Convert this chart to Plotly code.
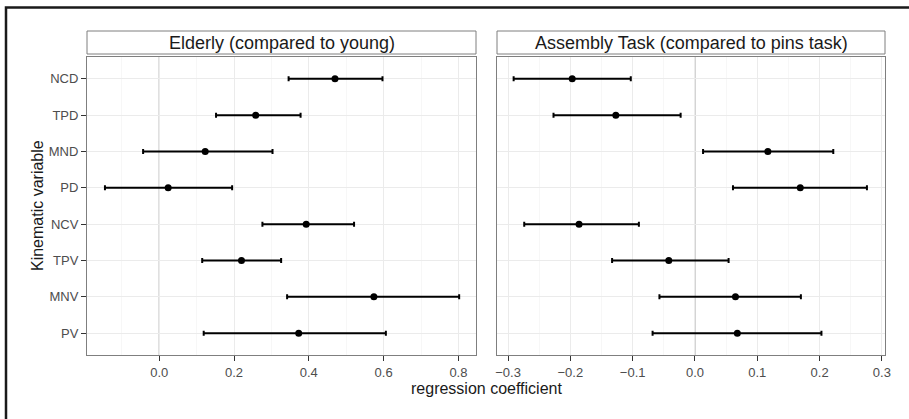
import plotly.graph_objects as go
from plotly.subplots import make_subplots

# ---- data ----
variables = ["PV", "MNV", "TPV", "NCV", "PD", "MND", "TPD", "NCD"]

elderly_est = [0.373, 0.574, 0.220, 0.393, 0.024, 0.123, 0.258, 0.470]
elderly_low = [0.119, 0.342, 0.115, 0.276, -0.145, -0.043, 0.152, 0.346]
elderly_high = [0.606, 0.802, 0.326, 0.521, 0.195, 0.303, 0.378, 0.597]

assembly_est = [0.068, 0.065, -0.042, -0.186, 0.169, 0.117, -0.127, -0.197]
assembly_low = [-0.068, -0.057, -0.133, -0.274, 0.061, 0.013, -0.227, -0.291]
assembly_high = [0.203, 0.170, 0.054, -0.090, 0.276, 0.222, -0.023, -0.103]

left_ticks = [0.0, 0.2, 0.4, 0.6, 0.8]
right_ticks = [-0.3, -0.2, -0.1, 0.0, 0.1, 0.2, 0.3]

panel_titles = ["Elderly (compared to young)", "Assembly Task (compared to pins task)"]
x_title = "regression coefficient"
y_title = "Kinematic variable"

FONT = "Liberation Sans, Arial, Helvetica, sans-serif"
W, H = 909, 419
L, R, T, B = 87, 885, 31, 355  # plot region in px


def px_x(px):
    return (px - L) / (R - L)


def px_y(py):
    return (B - py) / (B - T)


def fmt(v):
    s = f"{abs(v):.1f}"
    return ("\u2212" + s) if v < 0 else s


fig = make_subplots(rows=1, cols=2)

panels = [
    (elderly_est, elderly_low, elderly_high),
    (assembly_est, assembly_low, assembly_high),
]
for i, (est, low, high) in enumerate(panels):
    plus = [h - e for h, e in zip(high, est)]
    minus = [e - l for e, l in zip(est, low)]
    fig.add_trace(
        go.Scatter(
            x=est, y=variables, mode="markers",
            marker=dict(color="black", size=7),
            error_x=dict(type="data", array=plus, arrayminus=minus,
                         color="black", thickness=2, width=2.5),
            showlegend=False, hoverinfo="x+y",
        ),
        row=1, col=i + 1,
    )

dom_left = [0, px_x(476)]
dom_right = [px_x(497), 1]
ydom = [0, px_y(57)]

axis_common = dict(
    showline=True, linecolor="#7f7f7f", linewidth=1, mirror=True,
    ticks="outside", ticklen=5, tickcolor="#333333", tickwidth=1,
    gridcolor="#ebebeb", gridwidth=1, zeroline=False,
    tickfont=dict(family=FONT, size=13, color="#4d4d4d"),
)

fig.update_layout(
    xaxis=dict(domain=dom_left, range=[-0.193, 0.847], tickmode="array",
               tickvals=left_ticks, ticktext=[fmt(v) for v in left_ticks],
               minor=dict(tickvals=[-0.1, 0.1, 0.3, 0.5, 0.7], showgrid=True,
                          gridcolor="#f7f7f7", ticks=""),
               **axis_common),
    xaxis2=dict(domain=dom_right, range=[-0.3177, 0.305], tickmode="array",
                tickvals=right_ticks, ticktext=[fmt(v) for v in right_ticks],
                minor=dict(tickvals=[-0.25, -0.15, -0.05, 0.05, 0.15, 0.25],
                           showgrid=True, gridcolor="#f7f7f7", ticks=""),
                **axis_common),
    yaxis=dict(domain=ydom, type="category", categoryorder="array",
               categoryarray=variables, range=[-0.6, 7.6], **axis_common),
    yaxis2=dict(domain=ydom, type="category", categoryorder="array",
                categoryarray=variables, range=[-0.6, 7.6],
                showticklabels=False,
                **{k: v for k, v in axis_common.items() if k not in ("ticks",)},
                ticks=""),
)

# zero reference lines
for xr in ["x", "x2"]:
    yr = "y" if xr == "x" else "y2"
    fig.add_shape(type="line", xref=xr, yref=yr + " domain", x0=0, x1=0, y0=0, y1=1,
                  line=dict(color="#b3b3b3", width=1.2), layer="below")

# strips
strip_y0, strip_y1 = px_y(54), px_y(31)
for dom, title in zip([dom_left, dom_right], panel_titles):
    fig.add_shape(type="rect", xref="paper", yref="paper",
                  x0=dom[0], x1=dom[1], y0=strip_y0, y1=strip_y1,
                  fillcolor="white", line=dict(color="#7f7f7f", width=1))
    fig.add_annotation(text=title, xref="paper", yref="paper",
                       x=(dom[0] + dom[1]) / 2, y=(strip_y0 + strip_y1) / 2,
                       showarrow=False, xanchor="center", yanchor="middle",
                       font=dict(family=FONT, size=18, color="#1a1a1a"))

# axis titles
fig.add_annotation(text=x_title, xref="paper", yref="paper",
                   x=px_x(486), y=px_y(388), showarrow=False,
                   xanchor="center", yanchor="middle",
                   font=dict(family=FONT, size=16, color="#1a1a1a"))
fig.add_annotation(text=y_title, xref="paper", yref="paper",
                   x=px_x(37), y=px_y(206), showarrow=False, textangle=-90,
                   xanchor="center", yanchor="middle",
                   font=dict(family=FONT, size=16, color="#1a1a1a"))

# outer frame (left and top edges)
fig.add_shape(type="path", xref="paper", yref="paper",
              path=f"M {px_x(6)} {px_y(430)} L {px_x(6)} {px_y(7.5)} L {px_x(920)} {px_y(7.5)}",
              line=dict(color="#1a1a1a", width=2.5))

fig.update_layout(
    width=W, height=H,
    margin=dict(l=L, r=W - R, t=T, b=H - B),
    plot_bgcolor="white", paper_bgcolor="white",
    font=dict(family=FONT),
)

fig.write_html("out.html")
